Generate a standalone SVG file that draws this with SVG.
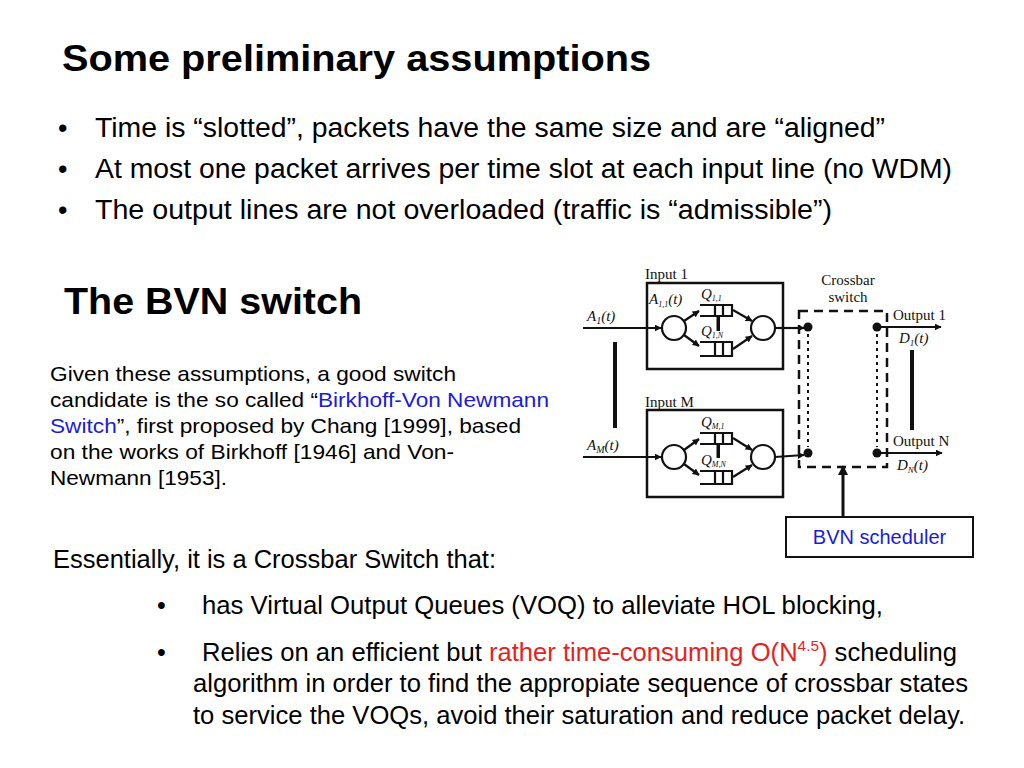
<svg xmlns="http://www.w3.org/2000/svg" width="1024" height="768" viewBox="0 0 1024 768">
<defs>
<marker id="ah" viewBox="0 0 10 10" refX="9" refY="5" markerWidth="7" markerHeight="7" markerUnits="userSpaceOnUse" orient="auto">
<path d="M0,0 L10,5 L0,10 z" fill="#111"/>
</marker>
<marker id="ahb" viewBox="0 0 10 10" refX="9" refY="5" markerWidth="10" markerHeight="10" markerUnits="userSpaceOnUse" orient="auto">
<path d="M0,0 L10,5 L0,10 z" fill="#111"/>
</marker>
</defs>
<style>
.t{font-family:"Liberation Sans",Arial,sans-serif;fill:#000}
.h{font-family:"Liberation Sans",Arial,sans-serif;font-weight:bold;font-size:37px;fill:#000}
.b1{font-size:27px}
.p{font-size:21px}
.b2{font-size:25px}
.blue{fill:#1c1cd4}
.red{fill:#e5231f}
.s{font-family:"Liberation Serif","Times New Roman",serif;fill:#111;font-size:15px}
.si{font-family:"Liberation Serif","Times New Roman",serif;font-style:italic;fill:#111;font-size:15px}
.ln{stroke:#111;stroke-width:2.2;fill:none}
.box{stroke:#111;stroke-width:2.5;fill:none}
.q{stroke:#111;stroke-width:2.2;fill:none}
.dash{stroke:#111;stroke-width:2.5;fill:none;stroke-dasharray:9 6}
.dot{stroke:#111;stroke-width:2;fill:none;stroke-dasharray:3 4}
.bar{fill:#111}
</style>
<rect width="1024" height="768" fill="#fff"/>

<text class="h" x="62" y="71" textLength="589" lengthAdjust="spacingAndGlyphs">Some preliminary assumptions</text>

<g id="bullets-top" class="t b1">
<text x="58" y="137">•</text>
<text x="95" y="137" textLength="790" lengthAdjust="spacingAndGlyphs">Time is “slotted”, packets have the same size and are “aligned”</text>
<text x="58" y="178">•</text>
<text x="95" y="178" textLength="857" lengthAdjust="spacingAndGlyphs">At most one packet arrives per time slot at each input line (no WDM)</text>
<text x="58" y="219">•</text>
<text x="95" y="219" textLength="737" lengthAdjust="spacingAndGlyphs">The output lines are not overloaded (traffic is “admissible”)</text>
</g>

<text class="h" x="64" y="314" textLength="298" lengthAdjust="spacingAndGlyphs">The BVN switch</text>

<g id="paragraph" class="t p">
<text x="50" y="381" textLength="406" lengthAdjust="spacingAndGlyphs">Given these assumptions, a good switch</text>
<text x="50" y="407" textLength="499" lengthAdjust="spacingAndGlyphs">candidate is the so called “<tspan class="blue">Birkhoff-Von Newmann</tspan></text>
<text x="50" y="433" textLength="471" lengthAdjust="spacingAndGlyphs"><tspan class="blue">Switch</tspan>”, first proposed by Chang [1999], based</text>
<text x="50" y="459" textLength="404" lengthAdjust="spacingAndGlyphs">on the works of Birkhoff [1946] and Von-</text>
<text x="50" y="485" textLength="177" lengthAdjust="spacingAndGlyphs">Newmann [1953].</text>
</g>

<g id="bottom-text" class="t b2">
<text x="53" y="568" textLength="443" lengthAdjust="spacingAndGlyphs">Essentially, it is a Crossbar Switch that:</text>
<text x="157" y="614">•</text>
<text x="202" y="614" textLength="681" lengthAdjust="spacingAndGlyphs">has Virtual Output Queues (VOQ) to alleviate HOL blocking,</text>
<text x="157" y="661">•</text>
<text x="202" y="661" textLength="755" lengthAdjust="spacingAndGlyphs">Relies on an efficient but <tspan class="red">rather time-consuming O(N<tspan font-size="15px" dy="-10">4.5</tspan><tspan dy="10">)</tspan></tspan> scheduling</text>
<text x="193" y="692" textLength="775" lengthAdjust="spacingAndGlyphs">algorithm in order to find the appropiate sequence of crossbar states</text>
<text x="193" y="724" textLength="772" lengthAdjust="spacingAndGlyphs">to service the VOQs, avoid their saturation and reduce packet delay.</text>
</g>

<g id="input1">
<text class="s" x="645" y="279">Input 1</text>
<rect class="box" x="647" y="283" width="136" height="86"/>
<circle class="ln" cx="674" cy="328" r="12"/>
<circle class="ln" cx="763" cy="328" r="12"/>
<text class="si" x="649" y="304" font-size="11px">A<tspan font-size="8px" dy="3">1,1</tspan><tspan dy="-3">(t)</tspan></text>
<path class="q" d="M700,305 H732 V316 H700 M715,305 V316 M723,305 V316"/>
<path class="q" d="M700,342 H732 V356 H700 M715,342 V356 M723,342 V356"/>
<rect class="bar" x="716.5" y="316" width="3.5" height="15"/>
<text class="si" x="701" y="299" font-size="12px">Q<tspan font-size="8px" dy="2">1,1</tspan></text>
<text class="si" x="701" y="336" font-size="12px">Q<tspan font-size="8px" dy="2">1,N</tspan></text>
</g>

<g id="inputM">
<text class="s" x="645" y="407">Input M</text>
<rect class="box" x="647" y="410" width="136" height="87"/>
<circle class="ln" cx="674" cy="457" r="12"/>
<circle class="ln" cx="763" cy="457" r="12"/>
<path class="q" d="M700,433 H732 V444 H700 M715,433 V444 M723,433 V444"/>
<path class="q" d="M700,471 H732 V484 H700 M715,471 V484 M723,471 V484"/>
<rect class="bar" x="716.5" y="444" width="3.5" height="14"/>
<text class="si" x="701" y="427" font-size="12px">Q<tspan font-size="8px" dy="2">M,1</tspan></text>
<text class="si" x="701" y="465" font-size="12px">Q<tspan font-size="8px" dy="2">M,N</tspan></text>
</g>

<g id="crossbar">
<text class="s" x="848" y="285" text-anchor="middle">Crossbar</text>
<text class="s" x="848" y="302" text-anchor="middle">switch</text>
<rect class="dash" x="799" y="311" width="88" height="156"/>
<line class="dot" x1="808" y1="334" x2="808" y2="447"/>
<line class="dot" x1="877" y1="334" x2="877" y2="447"/>
<circle cx="808" cy="327" r="4.5" fill="#111"/>
<circle cx="808" cy="453" r="4.5" fill="#111"/>
<circle cx="877" cy="327" r="4.5" fill="#111"/>
<circle cx="877" cy="453" r="4.5" fill="#111"/>
</g>

<g id="outputs">
<text class="s" x="893" y="320">Output 1</text>
<text class="si" x="899" y="343" font-size="14px">D<tspan font-size="9px" dy="3">1</tspan><tspan dy="-3">(t)</tspan></text>
<text class="s" x="893" y="446">Output N</text>
<text class="si" x="897" y="470" font-size="14px">D<tspan font-size="9px" dy="3">N</tspan><tspan dy="-3">(t)</tspan></text>
<rect class="bar" x="910" y="350" width="4" height="80"/>
</g>

<g id="inputs-left">
<text class="si" x="587" y="321">A<tspan font-size="10px" dy="3">1</tspan><tspan dy="-3">(t)</tspan></text>
<text class="si" x="587" y="450">A<tspan font-size="10px" dy="3">M</tspan><tspan dy="-3">(t)</tspan></text>
<rect class="bar" x="613" y="342" width="4" height="86"/>
</g>

<g id="bvn-scheduler">
<rect x="786" y="517" width="187" height="40" fill="#fff" stroke="#111" stroke-width="2"/>
<text class="t blue" x="879.5" y="544" font-size="20px" text-anchor="middle">BVN scheduler</text>
</g>

<g id="connectors">
<line class="ln" x1="583" y1="328" x2="661" y2="328" marker-end="url(#ah)"/>
<line class="ln" x1="583" y1="457" x2="661" y2="457" marker-end="url(#ah)"/>
<line class="ln" x1="684" y1="321" x2="699" y2="311" marker-end="url(#ah)"/>
<line class="ln" x1="684" y1="335" x2="699" y2="346" marker-end="url(#ah)"/>
<line class="ln" x1="733" y1="310" x2="752" y2="321" marker-end="url(#ah)"/>
<line class="ln" x1="733" y1="349" x2="752" y2="336" marker-end="url(#ah)"/>
<line class="ln" x1="684" y1="450" x2="699" y2="439" marker-end="url(#ah)"/>
<line class="ln" x1="684" y1="464" x2="699" y2="475" marker-end="url(#ah)"/>
<line class="ln" x1="733" y1="438" x2="752" y2="450" marker-end="url(#ah)"/>
<line class="ln" x1="733" y1="477" x2="752" y2="465" marker-end="url(#ah)"/>
<line class="ln" x1="775" y1="328" x2="804" y2="328" marker-end="url(#ah)"/>
<line class="ln" x1="775" y1="457" x2="804" y2="455" marker-end="url(#ah)"/>
<line class="ln" x1="877" y1="327" x2="941" y2="327" marker-end="url(#ah)"/>
<line class="ln" x1="877" y1="453" x2="942" y2="453" marker-end="url(#ah)"/>
<line x1="843" y1="517" x2="843" y2="466" stroke="#111" stroke-width="3" marker-end="url(#ahb)"/>
</g>
</svg>
